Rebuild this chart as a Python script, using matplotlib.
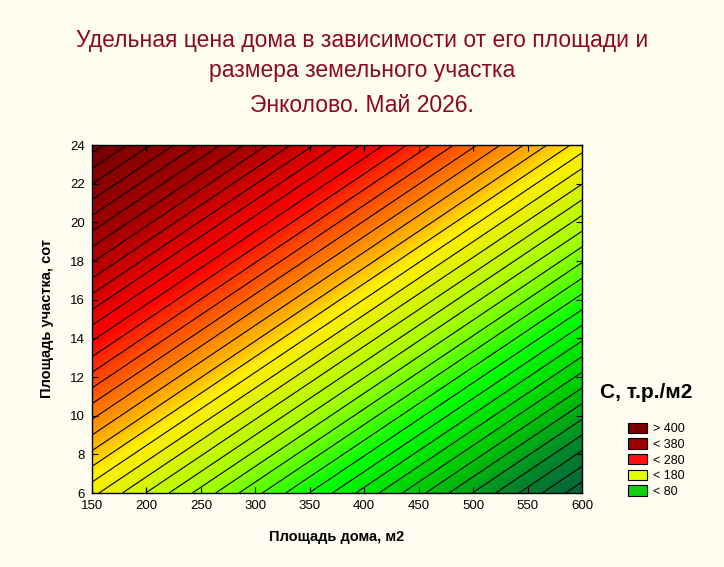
import numpy as np
import matplotlib
matplotlib.use("Agg")
import matplotlib.pyplot as plt
from matplotlib.colors import LinearSegmentedColormap
from matplotlib.patches import Patch

# --- data ---
house_area = [150, 300, 450, 600]          # x, m2
plot_size = [6, 12, 18, 24]                # y, sot
price = [                                   # rows follow plot_size, cols follow house_area
    [183, 113, 43, -27],
    [257, 187, 117, 47],
    [331, 261, 191, 121],
    [405, 335, 265, 195],
]
x_ticks = [150, 200, 250, 300, 350, 400, 450, 500, 550, 600]
y_ticks = [6, 8, 10, 12, 14, 16, 18, 20, 22, 24]
legend_labels = ["> 400", "< 380", "< 280", "< 180", "< 80"]
legend_colors = ["#7a0000", "#9c0000", "#ff1010", "#e6ff00", "#10d010"]
level_step = 10

BG = "#fffcf0"
TITLE_C = "#8b0a1e"

fig = plt.figure(figsize=(7.24, 5.67), dpi=100, facecolor=BG)
ax = fig.add_axes([92/724, 1-493/567, 490/724, 348/567])

X, Y = np.meshgrid(house_area, plot_size)
Z = np.array(price, dtype=float)

vmin, vmax = -30, 410
nodes = [(-30, "#0b5a3e"), (10, "#008a28"), (43, "#00c800"), (88, "#00ff00"),
         (136, "#a0ff00"), (182, "#f0f000"), (195, "#fff000"), (209, "#ffc000"),
         (226, "#ff9000"), (243, "#ff6000"), (260, "#ff3800"), (280, "#ff0000"),
         (300, "#e40000"), (318, "#c80000"), (340, "#a40000"), (380, "#8a0000"),
         (410, "#700000")]
cmap = LinearSegmentedColormap.from_list(
    "stat", [((v - vmin) / (vmax - vmin), c) for v, c in nodes])

fill_levels = np.linspace(vmin, vmax, 221)
cs = ax.contourf(X, Y, Z, levels=fill_levels, cmap=cmap, vmin=vmin, vmax=vmax)
cs.set_edgecolor("face")
cs.set_linewidth(0.6)
line_levels = np.arange(vmin, vmax + 1, level_step)
ax.contour(X, Y, Z, levels=line_levels, colors="black", linewidths=0.8,
           negative_linestyles="solid")

ax.set_xlim(150, 600)
ax.set_ylim(6, 24)
ax.set_xticks(x_ticks)
ax.set_yticks(y_ticks)
ax.tick_params(direction="in", top=True, right=True, length=4, width=0.8,
               labelsize=9.5, pad=5)
for lab in ax.get_xticklabels() + ax.get_yticklabels():
    lab.set_fontfamily("Liberation Sans")
for s in ax.spines.values():
    s.set_linewidth(1.0)

ax.set_xlabel("Площадь дома, м2", fontsize=10.5, fontweight="bold",
              family="Liberation Sans", labelpad=13)
ax.set_ylabel("Площадь участка, сот", fontsize=10.5, fontweight="bold",
              family="Liberation Sans", labelpad=12)

tfam = ["Liberation Sans", "DejaVu Sans"]
fig.text(0.5, 1-40/567, "Удельная цена дома в зависимости от его площади и",
         ha="center", va="center", color=TITLE_C, fontsize=16.5, family=tfam)
fig.text(0.5, 1-70/567, "размера земельного участка",
         ha="center", va="center", color=TITLE_C, fontsize=16.5, family=tfam)
fig.text(0.5, 1-106/567, "Энколово. Май 2026.",
         ha="center", va="center", color=TITLE_C, fontsize=16.5, family=tfam)

fig.text(600/724, 1-393/567, "C, т.р./м2", ha="left", va="center",
         fontsize=15, fontweight="bold", family="Liberation Sans")
handles = [Patch(facecolor=c, edgecolor="black", linewidth=0.8) for c in legend_colors]
fig.legend(handles, legend_labels, loc="upper left",
           bbox_to_anchor=(619/724, 1-414/567), frameon=False,
           prop={"family": "Liberation Sans", "size": 9},
           handlelength=1.5, handleheight=0.9, handletextpad=0.5,
           labelspacing=0.25, borderpad=0.2)

fig.savefig("out.png", dpi=100, facecolor=BG)
